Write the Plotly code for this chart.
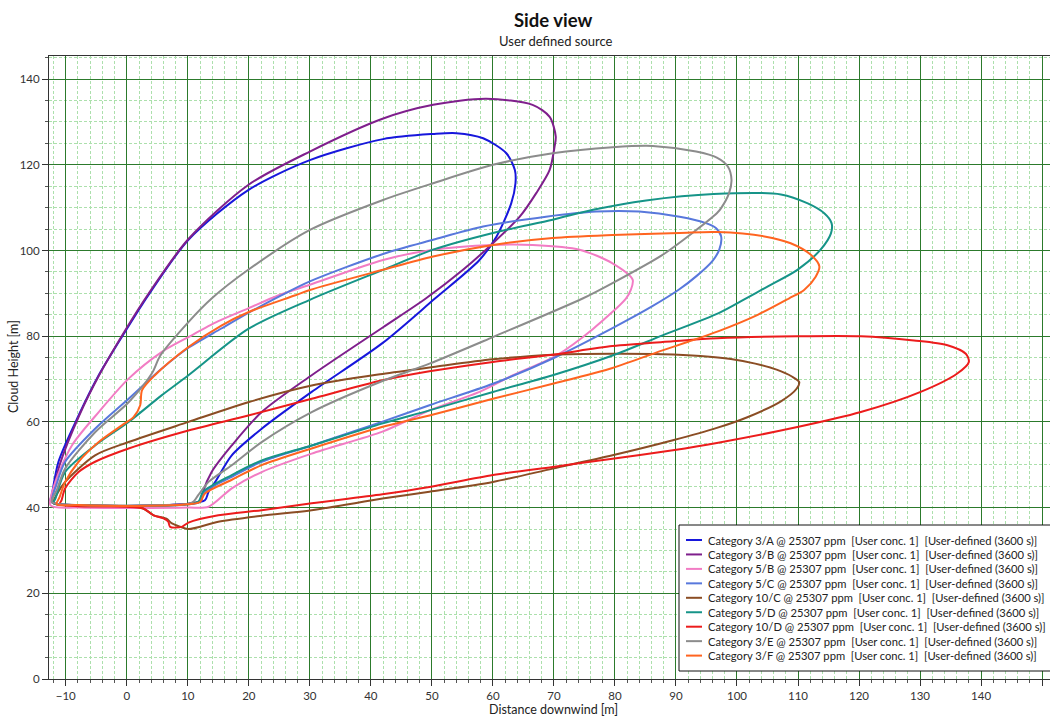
import plotly.graph_objects as go

# ---- cloud envelope outlines (distance downwind [m], cloud height [m]) ----
names = [
    "Category 3/A @ 25307 ppm  [User conc. 1]  [User-defined (3600 s)]",
    "Category 3/B @ 25307 ppm  [User conc. 1]  [User-defined (3600 s)]",
    "Category 5/B @ 25307 ppm  [User conc. 1]  [User-defined (3600 s)]",
    "Category 5/C @ 25307 ppm  [User conc. 1]  [User-defined (3600 s)]",
    "Category 10/C @ 25307 ppm  [User conc. 1]  [User-defined (3600 s)]",
    "Category 5/D @ 25307 ppm  [User conc. 1]  [User-defined (3600 s)]",
    "Category 10/D @ 25307 ppm  [User conc. 1]  [User-defined (3600 s)]",
    "Category 3/E @ 25307 ppm  [User conc. 1]  [User-defined (3600 s)]",
    "Category 3/F @ 25307 ppm  [User conc. 1]  [User-defined (3600 s)]",
]

colors = ["#1717dc", "#7f1f8c", "#f27cc4", "#5878dc", "#8b4d24",
          "#169488", "#ec1c1c", "#8c8c8c", "#ff6420"]

x_3a = [-12.5, -12.3, -11.2, -7.9, -4.6, -0.3, 3.5, 10.1, 19.9, 30.0, 42.0, 50.2, 54.0, 58.4,
        62.2, 63.6, 63.7, 63.0, 60.6, 57.8, 50.5, 42.0, 30.3, 22.1, 17.2, 14.5, 13.4, 12.8,
        10.1, 0.0, -8.0, -11.7, -12.5]
y_3a = [41.7, 42.9, 50.7, 61.5, 70.9, 81.0, 89.5, 102.5, 114.1, 121.1, 126.0, 127.2, 127.4, 126.2,
        122.7, 118.8, 115.7, 111.0, 103.3, 97.8, 88.8, 78.5, 67.0, 58.4, 52.2, 46.0, 43.7, 41.7,
        40.9, 40.4, 40.6, 40.9, 41.7]

x_3b = [-12.5, -12.3, -11.0, -7.8, -4.5, -0.3, 3.5, 10.1, 19.9, 30.0, 41.8, 50.2, 58.9, 66.5,
        69.3, 70.3, 70.1, 69.3, 67.1, 64.4, 60.0, 55.1, 49.0, 42.0, 30.3, 22.1, 17.2, 13.9,
        12.5, 12.2, 10.1, 0.0, -8.0, -11.7, -12.5]
y_3b = [41.7, 42.5, 50.0, 61.5, 71.0, 81.3, 89.8, 102.7, 115.3, 123.1, 130.7, 134.0, 135.4, 134.0,
        131.2, 126.6, 124.2, 118.8, 113.4, 107.9, 101.7, 95.5, 88.8, 82.1, 70.9, 62.3, 54.5, 48.3,
        43.7, 41.7, 40.9, 40.4, 40.6, 40.9, 41.7]

x_5b = [-12.5, -11.7, -9.0, -4.6, 0.3, 5.7, 10.1, 15.0, 19.9, 24.8, 30.0, 42.0, 50.2, 60.0,
        66.5, 74.2, 79.6, 82.9, 82.6, 81.8, 76.4, 70.4, 63.3, 57.8, 49.6, 42.0, 30.3, 22.1,
        17.2, 13.4, 10.1, 0.0, -8.0, -12.5]
y_5b = [40.5, 46.0, 54.5, 62.3, 70.1, 76.3, 79.8, 83.5, 86.5, 89.5, 92.0, 97.8, 100.2, 101.3,
        101.3, 100.2, 97.0, 93.2, 90.8, 88.8, 81.7, 75.5, 70.9, 67.0, 62.7, 57.8, 52.6, 48.3,
        44.5, 40.2, 40.0, 39.9, 40.0, 40.5]

x_5c = [-12.2, -11.5, -10.1, -5.2, 0.3, 5.7, 10.1, 15.5, 20.0, 25.0, 30.0, 42.0, 50.2, 58.4,
        68.7, 76.9, 84.0, 90.6, 94.9, 96.5, 97.4, 97.1, 96.0, 93.5, 90.5, 86.0, 79.6, 69.8, 60.0,
        49.6, 41.8, 30.3, 22.1, 17.2, 12.8, 11.8, 10.1, 0.0, -8.0, -12.2]
y_5c = [41.2, 45.5, 50.7, 58.4, 65.4, 72.4, 77.3, 81.8, 85.5, 89.3, 92.8, 99.2, 102.5, 105.6,
        107.9, 109.1, 109.1, 107.9, 106.4, 105.3, 103.3, 100.2, 97.6, 94.2, 90.9, 86.9, 81.9, 74.8, 68.9,
        63.9, 60.0, 54.5, 50.7, 47.2, 43.7, 41.2, 40.8, 40.4, 40.6, 41.2]

x_10c = [-12.0, -11.3, -10.1, -5.2, 0.3, 10.1, 19.9, 30.3, 41.9, 50.2, 60.0, 69.8, 79.6, 87.8,
         94.0, 99.0, 103.0, 106.5, 109.0, 110.2, 109.8, 107.2, 101.7, 96.7, 89.5, 79.6, 69.8, 60.0,
         49.6, 41.9, 30.3, 22.1, 15.0, 10.1, 8.6, 7.4, 6.5, 4.4, 2.7, 0.0, -8.0, -12.0]
y_10c = [41.0, 43.5, 46.0, 52.2, 55.3, 60.0, 64.6, 68.5, 71.2, 72.8, 74.6, 75.7, 75.9, 75.8,
         75.4, 74.7, 73.6, 72.2, 70.6, 69.3, 67.8, 64.8, 61.1, 58.6, 55.7, 52.2, 49.1, 46.0,
         43.7, 42.1, 39.4, 38.1, 36.7, 35.0, 35.6, 36.3, 37.4, 38.2, 39.8, 40.3, 40.5, 41.0]

x_5d = [-12.0, -11.7, -10.1, -5.2, 0.3, 5.7, 10.1, 19.9, 30.0, 42.0, 50.2, 60.0, 69.8, 76.4,
        85.1, 96.2, 107.2, 111.6, 114.3, 115.5, 115.4, 113.7, 109.9, 105.0, 101.2, 97.0, 87.8,
        79.6, 69.8, 60.0, 49.6, 41.8, 30.3, 22.1, 17.2, 12.5, 11.8, 10.1, 0.0, -8.0, -12.0]
y_5d = [41.0, 42.1, 48.3, 54.5, 60.0, 66.2, 70.9, 81.7, 88.5, 95.5, 100.2, 104.1, 107.2, 109.5,
        111.7, 113.2, 113.1, 111.0, 108.7, 106.4, 104.0, 100.2, 95.5, 91.6, 88.6, 85.4, 80.2,
        75.5, 70.9, 67.0, 62.7, 59.6, 54.5, 51.0, 47.6, 43.7, 41.5, 40.8, 40.4, 40.6, 41.0]

x_10d = [-11.0, -10.7, -10.1, -7.9, -5.2, 0.3, 10.1, 19.9, 30.3, 41.9, 49.6, 60.0, 69.8, 79.6,
         89.5, 96.7, 109.9, 120.3, 129.0, 134.5, 137.5, 138.0, 136.1, 130.1, 120.3, 109.9, 96.7,
         89.5, 79.6, 69.8, 60.0, 49.6, 41.9, 30.3, 22.1, 15.0, 10.1, 9.0, 7.1, 6.8, 6.0, 4.4,
         2.7, 0.0, -8.0, -11.0]
y_10d = [40.8, 41.7, 44.5, 48.3, 50.7, 53.8, 58.0, 61.5, 65.4, 69.7, 71.8, 74.0, 75.7, 77.7,
         78.8, 79.5, 80.0, 80.0, 79.0, 77.9, 75.9, 74.0, 71.3, 67.0, 62.3, 58.8, 55.1,
         53.4, 51.4, 49.5, 47.6, 44.8, 43.1, 41.0, 39.4, 38.2, 36.5, 35.5, 35.5, 36.7, 37.5, 38.2,
         39.8, 40.2, 40.3, 40.8]

x_3e = [-12.3, -11.5, -10.1, -5.2, 0.3, 4.1, 5.5, 10.1, 13.9, 19.9, 30.0, 42.0, 50.2, 60.0,
        69.8, 79.6, 86.2, 93.3, 96.7, 98.5, 99.1, 98.7, 97.4, 96.7, 92.7, 87.8, 79.6, 74.7,
        60.0, 49.6, 41.8, 30.3, 22.1, 17.2, 13.4, 11.7, 11.0, 10.1, 0.0, -8.0, -12.3]
y_3e = [41.3, 44.0, 49.1, 57.6, 64.6, 71.3, 75.5, 83.3, 88.8, 95.5, 104.8, 111.8, 115.7, 120.0,
        122.7, 124.1, 124.4, 123.1, 121.7, 119.6, 116.5, 113.4, 109.9, 108.7, 104.1, 99.0, 92.4, 88.8,
        79.8, 73.6, 69.5, 62.3, 55.3, 49.9, 46.0, 42.9, 41.5, 40.9, 40.5, 40.6, 41.3]

x_3f = [-11.5, -11.0, -10.1, -7.9, -4.6, -0.8, 1.1, 2.2, 2.5, 4.6, 10.1, 15.5, 19.9, 27.5,
        30.0, 42.0, 50.2, 60.0, 69.8, 79.6, 90.6, 96.7, 104.5, 108.8, 112.1, 113.5, 112.9,
        111.0, 108.5, 103.4, 97.0, 92.0, 87.8, 79.6, 69.8, 60.0, 49.6, 41.8, 30.3, 22.1, 17.2, 12.8,
        12.0, 10.1, 0.0, -8.0, -11.5]
y_3f = [40.8, 42.5, 46.0, 50.7, 55.3, 59.2, 61.1, 63.9, 67.4, 70.9, 77.5, 82.5, 85.6, 89.5,
        90.8, 95.5, 98.6, 101.3, 102.9, 103.6, 104.1, 104.3, 103.3, 101.7, 99.0, 96.3, 93.9,
        90.8, 88.8, 85.0, 81.2, 78.7, 76.7, 72.6, 68.9, 65.4, 61.5, 58.8, 53.8, 49.9, 46.5, 43.3,
        41.3, 40.8, 40.4, 40.6, 40.8]

xs = [x_3a, x_3b, x_5b, x_5c, x_10c, x_5d, x_10d, x_3e, x_3f]
ys = [y_3a, y_3b, y_5b, y_5c, y_10c, y_5d, y_10d, y_3e, y_3f]

x_ticks = [-10, 0, 10, 20, 30, 40, 50, 60, 70, 80, 90, 100, 110, 120, 130, 140, 150]
y_ticks = [0, 20, 40, 60, 80, 100, 120, 140]

FONT = "Segoe UI, Lato, Noto Sans, sans-serif"
W, H = 1050, 717
L, R, T, B = 49, 0, 56, 38
PW, PH = W - L - R, H - T - B


def px(xp):
    return (xp - L) / PW


def py(yp):
    return (H - B - yp) / PH


fig = go.Figure()
for name, color, xv, yv in zip(names, colors, xs, ys):
    fig.add_trace(go.Scatter(
        x=xv, y=yv, mode="lines", name=name, showlegend=False,
        line=dict(color=color, width=2, shape="spline", smoothing=0.8),
    ))

major_grid = "#2c7a2c"
minor_grid = "#ace0ac"

fig.update_xaxes(
    range=[-12.75, 151.3], tickvals=x_ticks, ticks="outside", ticklen=6,
    tickcolor="#333", showline=True, linecolor="#333", linewidth=1, mirror=True,
    showgrid=True, gridcolor=major_grid, gridwidth=1, zeroline=False,
    tickfont=dict(family=FONT, size=11.5, color="#333"),
    minor=dict(dtick=2, tick0=0, ticks="outside", ticklen=3, tickcolor="#555",
               showgrid=True, gridcolor=minor_grid, gridwidth=1, griddash="3px,2px"),
)
fig.update_yaxes(
    range=[0, 145.4], tickvals=y_ticks, ticks="outside", ticklen=6,
    tickcolor="#333", showline=True, linecolor="#333", linewidth=1, mirror=True,
    showgrid=True, gridcolor=major_grid, gridwidth=1, zeroline=False,
    tickfont=dict(family=FONT, size=11.5, color="#333"),
    minor=dict(dtick=5, tick0=0, ticks="outside", ticklen=3, tickcolor="#555",
               showgrid=True, gridcolor=minor_grid, gridwidth=1, griddash="3px,2px"),
)

annotations = [
    dict(text="<b>Side view</b>", x=px(553), y=py(20), xref="paper", yref="paper",
         xanchor="center", yanchor="middle",
         showarrow=False, font=dict(family=FONT, size=18.5, color="#111")),
    dict(text="User defined source", x=px(556), y=py(41), xref="paper", yref="paper",
         xanchor="center", yanchor="middle",
         showarrow=False, font=dict(family=FONT, size=13, color="#222")),
    dict(text="Distance downwind [m]", x=px(553), y=py(709), xref="paper", yref="paper",
         xanchor="center", yanchor="middle",
         showarrow=False, font=dict(family=FONT, size=12.5, color="#222")),
    dict(text="Cloud Height [m]", x=px(14), y=py(367), xref="paper", yref="paper",
         xanchor="center", yanchor="middle",
         showarrow=False, textangle=-90, font=dict(family=FONT, size=12.5, color="#222")),
]

# legend box drawn inside the plot area
shapes = [dict(type="rect", xref="paper", yref="paper", x0=px(679), x1=px(1062),
               y0=py(671), y1=py(525), line=dict(color="#111", width=1),
               fillcolor="white", layer="above")]
for i, (name, color) in enumerate(zip(names, colors)):
    yc = 540 + 14.45 * i
    shapes.append(dict(type="line", xref="paper", yref="paper", x0=px(686), x1=px(702),
                       y0=py(yc), y1=py(yc), line=dict(color=color, width=2), layer="above"))
    annotations.append(dict(text=name.replace("  ", " \u00a0"), x=px(706), y=py(yc),
                            xref="paper", yref="paper", xanchor="left", yanchor="middle",
                            showarrow=False, font=dict(family=FONT, size=11.2, color="#222")))

fig.update_layout(
    width=W, height=H, margin=dict(l=L, r=R, t=T, b=B),
    paper_bgcolor="white", plot_bgcolor="white",
    annotations=annotations, shapes=shapes, showlegend=False,
)

fig.write_html("out.html")
